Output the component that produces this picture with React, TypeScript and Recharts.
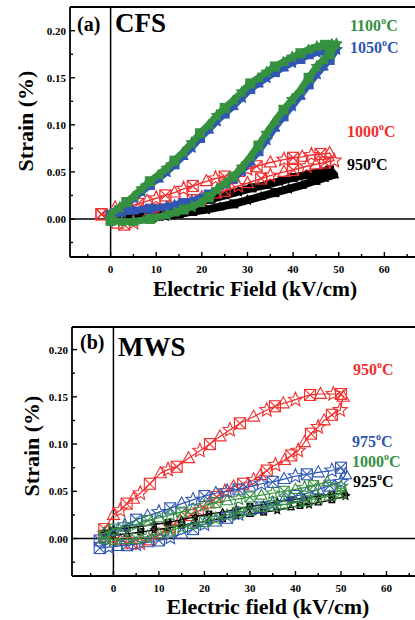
import React from 'react';
import { ScatterChart, Scatter, XAxis, YAxis, ReferenceLine } from 'recharts';

// ---------- Panel (a) CFS ----------
const cfs1100E = [0, 2.5, 5, 8.6, 12.3, 14, 16, 17.8, 19.6, 21.5, 23.3, 25, 26.9, 28.8, 30.6, 32.4, 34.2, 36, 37.9, 39.8, 41.6, 43.4, 45.2, 46.6, 48, 49.5,
  48.5, 47, 45.2, 43.4, 41.6, 39.8, 37.9, 36, 34.2, 32.4, 30.6, 28.8, 26.9, 25, 23.3, 21.5, 19.6, 17.8, 15.9, 14, 12.3, 10.5, 8.6, 6.8, 5, 3.5, 2, 0];
const cfs1100S = [-0.002, -0.003, -0.003, 0.0, 0.004, 0.007, 0.01, 0.013, 0.017, 0.023, 0.031, 0.038, 0.045, 0.055, 0.066, 0.078, 0.091, 0.104, 0.116, 0.127, 0.137, 0.15, 0.162, 0.169, 0.175, 0.186,
  0.186, 0.185, 0.183, 0.18, 0.176, 0.172, 0.167, 0.162, 0.156, 0.15, 0.144, 0.135, 0.126, 0.118, 0.11, 0.1, 0.091, 0.081, 0.071, 0.062, 0.054, 0.047, 0.04, 0.032, 0.024, 0.018, 0.012, 0.005];

const cfs1050E = cfs1100E;
const cfs1050S = [0.004, 0.007, 0.009, 0.011, 0.013, 0.015, 0.017, 0.019, 0.022, 0.026, 0.031, 0.037, 0.043, 0.051, 0.061, 0.072, 0.084, 0.097, 0.109, 0.12, 0.131, 0.143, 0.154, 0.162, 0.169, 0.18,
  0.18, 0.179, 0.177, 0.174, 0.17, 0.166, 0.161, 0.156, 0.15, 0.144, 0.138, 0.129, 0.12, 0.112, 0.104, 0.095, 0.086, 0.076, 0.067, 0.058, 0.05, 0.043, 0.036, 0.029, 0.022, 0.017, 0.011, 0.006];

const cfs1000E = [-2, 0, 1.5, 3, 5, 8, 11, 13, 15, 18, 20, 23, 25, 28, 30, 33, 35, 38, 40, 43, 45, 47, 49,
  48, 46, 44, 42, 40, 38, 35, 32, 30, 28, 25, 23, 21, 18, 16, 14, 12, 10, 8, 6, 3, 1, -2];
const cfs1000S = [0.005, 0.002, -0.005, -0.006, -0.004, 0.003, 0.01, 0.013, 0.015, 0.02, 0.022, 0.027, 0.03, 0.035, 0.038, 0.043, 0.046, 0.05, 0.052, 0.056, 0.058, 0.06, 0.062,
  0.07, 0.069, 0.068, 0.066, 0.065, 0.063, 0.06, 0.056, 0.053, 0.05, 0.045, 0.043, 0.04, 0.035, 0.032, 0.028, 0.025, 0.022, 0.019, 0.016, 0.012, 0.012, 0.005];

const cfs950E = [0, 3, 6, 9, 12, 15, 18, 21, 24, 27, 30, 33, 36, 39, 42, 45, 47, 49,
  48, 46, 43, 40, 37, 34, 31, 28, 25, 22, 19, 16, 13, 10, 7, 4, 1];
const cfs950S = [0.0, -0.001, 0.0, 0.001, 0.003, 0.005, 0.008, 0.01, 0.013, 0.016, 0.02, 0.024, 0.028, 0.032, 0.036, 0.041, 0.044, 0.047,
  0.052, 0.05, 0.047, 0.044, 0.04, 0.036, 0.033, 0.029, 0.025, 0.021, 0.018, 0.014, 0.011, 0.008, 0.005, 0.003, 0.001];

// ---------- Panel (b) MWS ----------
const mws950E = [-2, 0, 1.5, 4, 5.9, 8, 10.3, 12.5, 14.6, 17, 19, 21, 22.7, 24.5, 26.4, 28.5, 30.8, 32.3, 33.7, 35.6, 37.6, 39.1, 40.6, 42, 43.4, 45, 46.3, 48, 49.8, 50.5,
  50, 48.3, 45.5, 43.2, 40, 37.3, 35.5, 33.7, 30.8, 27.8, 25.6, 23.4, 21.2, 19, 16.5, 13.9, 12, 10.3, 8, 5.9, 4.4, 2.9, 1.5, 0, -2];
const mws950S = [0.003, 0.001, -0.002, -0.005, -0.005, -0.002, 0.005, 0.012, 0.019, 0.025, 0.03, 0.037, 0.044, 0.05, 0.055, 0.058, 0.062, 0.067, 0.072, 0.078, 0.083, 0.088, 0.093, 0.102, 0.111, 0.118, 0.125, 0.131, 0.136, 0.15,
  0.153, 0.153, 0.153, 0.152, 0.147, 0.143, 0.14, 0.136, 0.129, 0.122, 0.115, 0.108, 0.1, 0.093, 0.085, 0.076, 0.073, 0.069, 0.058, 0.048, 0.042, 0.037, 0.03, 0.025, 0.01];

const mws975E = [-3, -1, 1, 3, 5, 7.5, 10, 12.5, 15, 17.5, 20, 22.5, 25, 27.5, 30, 32.5, 35, 37.5, 40, 42.5, 45, 47.5, 50, 51,
  50, 48, 45, 42.5, 40, 37.5, 35, 32.5, 30, 27.5, 25, 22.5, 20, 17.5, 15, 12.5, 10, 7.5, 5, 2.5, 0, -3];
const mws975S = [-0.01, -0.009, -0.008, -0.007, -0.006, -0.004, -0.002, 0.001, 0.005, 0.01, 0.015, 0.018, 0.022, 0.026, 0.03, 0.033, 0.037, 0.041, 0.045, 0.048, 0.052, 0.056, 0.06, 0.068,
  0.075, 0.072, 0.07, 0.068, 0.066, 0.063, 0.06, 0.058, 0.055, 0.052, 0.05, 0.048, 0.045, 0.041, 0.037, 0.032, 0.028, 0.024, 0.02, 0.014, 0.008, -0.002];

const mws1000E = [-2, 0, 2.5, 5, 7.5, 10, 12.5, 15, 17.5, 20, 22.5, 25, 27.5, 30, 32.5, 35, 37.5, 40, 42.5, 45, 47.5, 50,
  50, 47, 44, 42, 40, 37.5, 35, 32.5, 30, 27.5, 25, 22.5, 20, 17.5, 15, 12.5, 10, 7.5, 5, 2.5, 0, -2];
const mws1000S = [0.0, -0.002, -0.001, 0.0, 0.002, 0.005, 0.008, 0.012, 0.015, 0.018, 0.021, 0.025, 0.028, 0.03, 0.033, 0.035, 0.036, 0.038, 0.04, 0.043, 0.045, 0.048,
  0.055, 0.06, 0.056, 0.054, 0.052, 0.05, 0.048, 0.046, 0.044, 0.042, 0.04, 0.038, 0.035, 0.031, 0.028, 0.025, 0.022, 0.019, 0.015, 0.012, 0.01, 0.005];

const mws925E = [-2, 0, 3, 6, 9, 12, 15, 18, 21, 24, 27, 30, 33, 36, 39, 41, 43, 45, 48, 51,
  51, 48, 45, 42, 39, 36, 33, 30, 27, 24, 21, 18, 15, 12, 9, 6, 3, 0, -2];
const mws925S = [0.005, 0.004, 0.005, 0.007, 0.009, 0.011, 0.014, 0.016, 0.019, 0.021, 0.024, 0.026, 0.028, 0.03, 0.033, 0.035, 0.036, 0.038, 0.041, 0.045,
  0.048, 0.047, 0.045, 0.043, 0.041, 0.039, 0.036, 0.034, 0.031, 0.028, 0.026, 0.023, 0.02, 0.017, 0.015, 0.013, 0.011, 0.01, 0.008];

// ---------- ticks ----------
const xTicks = [-5, 0, 5, 10, 15, 20, 25, 30, 35, 40, 45, 50, 55, 60, 65];
const yTicks = [-0.025, 0, 0.025, 0.05, 0.075, 0.1, 0.125, 0.15, 0.175, 0.2];

const RED = '#f02f2f';
const GREEN = '#35913f';
const BLUE = '#2f57b3';
const FONT = '"Liberation Serif", "Times New Roman", serif';

const pts = (xs: number[], ys: number[]) => xs.map((x, i) => ({ x, y: ys[i] }));

const starPoints = (cx: number, cy: number, r: number) => {
  const p: string[] = [];
  for (let k = 0; k < 10; k++) {
    const rr = k % 2 === 0 ? r : r * 0.45;
    const a = -Math.PI / 2 + (k * Math.PI) / 5;
    p.push(`${cx + rr * Math.cos(a)},${cy + rr * Math.sin(a)}`);
  }
  return p.join(' ');
};

const makeShape = (color: string, s: number, filled: boolean, sw: number) => (props: any) => {
  const { cx, cy } = props;
  if (cx == null || cy == null) return <g />;
  const idx = typeof props.index === 'number' ? props.index : Math.round(cx * 3 + cy);
  const kind = idx % 3;
  const fill = filled ? color : 'none';
  if (kind === 0) {
    return (
      <g stroke={color} strokeWidth={sw} fill={fill}>
        <rect x={cx - s} y={cy - s} width={2 * s} height={2 * s} />
        <line x1={cx - s} y1={cy - s} x2={cx + s} y2={cy + s} />
        <line x1={cx - s} y1={cy + s} x2={cx + s} y2={cy - s} />
      </g>
    );
  }
  if (kind === 1) {
    return <polygon points={starPoints(cx, cy, s * 1.35)} stroke={color} strokeWidth={sw} fill={fill} />;
  }
  return (
    <polygon
      points={`${cx},${cy - s * 1.2} ${cx + s * 1.1},${cy + s * 0.8} ${cx - s * 1.1},${cy + s * 0.8}`}
      stroke={color}
      strokeWidth={sw}
      fill={fill}
    />
  );
};

const XTick = (dy: number) => (props: any) => {
  const { x, y, payload } = props;
  const v = payload.value;
  const major = v % 10 === 0;
  return (
    <g>
      <line x1={x} y1={y} x2={x} y2={y - (major ? 5 : 3)} stroke="#000" strokeWidth={1.4} />
      {major && v >= 0 ? (
        <text x={x} y={y + dy} textAnchor="middle" dominantBaseline="central" fontFamily={FONT} fontWeight="bold" fontSize={11} fill="#000">
          {v}
        </text>
      ) : null}
    </g>
  );
};

const YTick = (props: any) => {
  const { x, y, payload } = props;
  const v = payload.value;
  const major = Math.abs(v / 0.05 - Math.round(v / 0.05)) < 1e-6;
  return (
    <g>
      <line x1={x} y1={y} x2={x + (major ? 5 : 3)} y2={y} stroke="#000" strokeWidth={1.4} />
      {major ? (
        <text x={x - 4} y={y} textAnchor="end" dominantBaseline="central" fontFamily={FONT} fontWeight="bold" fontSize={11} fill="#000">
          {v.toFixed(2)}
        </text>
      ) : null}
    </g>
  );
};

type SeriesDef = { data: { x: number; y: number }[]; color: string; lw: number; ms: number; filled: boolean; msw: number };

const Panel = ({
  series, xDomain, yDomain, width, height, margin, yWidth, xHeight, tickDy,
}: {
  series: SeriesDef[]; xDomain: [number, number]; yDomain: [number, number]; width: number; height: number;
  margin: any; yWidth: number; xHeight: number; tickDy: number;
}) => (
  <ScatterChart width={width} height={height} margin={margin}>
    <XAxis
      type="number" dataKey="x" domain={xDomain} ticks={xTicks} interval={0} allowDataOverflow
      height={xHeight} tickSize={0} tickMargin={0} tickLine={false}
      axisLine={{ stroke: '#000', strokeWidth: 1.8 }} tick={XTick(tickDy)}
    />
    <YAxis
      type="number" dataKey="y" domain={yDomain} ticks={yTicks} interval={0} allowDataOverflow
      width={yWidth} tickSize={0} tickMargin={0} tickLine={false}
      axisLine={{ stroke: '#000', strokeWidth: 1.8 }} tick={YTick}
    />
    <ReferenceLine y={yDomain[1]} stroke="#000" strokeWidth={1.8} />
    <ReferenceLine x={0} stroke="#000" strokeWidth={1.5} />
    <ReferenceLine y={0} stroke="#000" strokeWidth={1.5} />
    {series.map((s, i) => (
      <Scatter
        key={i}
        data={s.data}
        fill={s.color}
        line={{ stroke: s.color, strokeWidth: s.lw, strokeLinejoin: 'round' }}
        lineJointType="linear"
        shape={makeShape(s.color, s.ms, s.filled, s.msw)}
        isAnimationActive={false}
      />
    ))}
  </ScatterChart>
);

const Temp = ({ x, y, color, t }: { x: number; y: number; color: string; t: string }) => (
  <text x={x} y={y} fontFamily={FONT} fontWeight="bold" fontSize={16} fill={color}>
    {t}
    <tspan dy={-7} fontSize={10}>o</tspan>
    <tspan dy={7}>C</tspan>
  </text>
);

export default function App() {
  const seriesA: SeriesDef[] = [
    { data: pts(cfs950E, cfs950S), color: '#000', lw: 8, ms: 4, filled: true, msw: 1 },
    { data: pts(cfs1000E, cfs1000S), color: RED, lw: 1.4, ms: 5.5, filled: false, msw: 1.2 },
    { data: pts(cfs1050E, cfs1050S), color: BLUE, lw: 7, ms: 4.5, filled: true, msw: 1 },
    { data: pts(cfs1100E, cfs1100S), color: GREEN, lw: 7, ms: 4.5, filled: true, msw: 1 },
  ];
  const seriesB: SeriesDef[] = [
    { data: pts(mws950E, mws950S), color: RED, lw: 1.2, ms: 5.5, filled: false, msw: 1.1 },
    { data: pts(mws925E, mws925S), color: '#000', lw: 1.4, ms: 2.8, filled: false, msw: 1.3 },
    { data: pts(mws975E, mws975S), color: BLUE, lw: 1.2, ms: 5.5, filled: false, msw: 1.1 },
    { data: pts(mws1000E, mws1000S), color: GREEN, lw: 1.2, ms: 5, filled: false, msw: 1.1 },
  ];
  return (
    <div style={{ position: 'absolute', left: 0, top: 0, width: 415, height: 620, overflow: 'hidden', background: '#fff' }}>
      <div style={{ position: 'absolute', left: 0, top: 0 }}>
        <Panel
          series={seriesA} xDomain={[-8.9, 70]} yDomain={[-0.0404, 0.2252]}
          width={440} height={300} margin={{ top: 7, right: 10, left: 0, bottom: 0 }}
          yWidth={70} xHeight={43} tickDy={12.3}
        />
      </div>
      <div style={{ position: 'absolute', left: 0, top: 310 }}>
        <Panel
          series={seriesB} xDomain={[-9.1, 70]} yDomain={[-0.0396, 0.2239]}
          width={442} height={310} margin={{ top: 17, right: 10, left: 0, bottom: 0 }}
          yWidth={72} xHeight={44} tickDy={11.5}
        />
      </div>
      <svg width={415} height={620} style={{ position: 'absolute', left: 0, top: 0, pointerEvents: 'none' }}>
        {/* panel a */}
        <text x={77} y={30.5} fontFamily={FONT} fontWeight="bold" fontSize={20} fill="#000">(a)</text>
        <text x={115} y={31.5} fontFamily={FONT} fontWeight="bold" fontSize={27} fill="#000">CFS</text>
        <Temp x={350} y={30.5} color={GREEN} t="1100" />
        <Temp x={350} y={53.3} color={BLUE} t="1050" />
        <Temp x={347} y={136.7} color={RED} t="1000" />
        <Temp x={347} y={170} color="#000" t="950" />
        <text x={255} y={295.5} textAnchor="middle" fontFamily={FONT} fontWeight="bold" fontSize={21.5} fill="#000">Electric Field (kV/cm)</text>
        <text x={0} y={0} transform="translate(25,121) rotate(-90)" textAnchor="middle" dominantBaseline="central" fontFamily={FONT} fontWeight="bold" fontSize={22} fill="#000">Strain (%)</text>
        {/* panel b */}
        <text x={80} y={349} fontFamily={FONT} fontWeight="bold" fontSize={20} fill="#000">(b)</text>
        <text x={118} y={355.5} fontFamily={FONT} fontWeight="bold" fontSize={27} fill="#000">MWS</text>
        <Temp x={353} y={375} color={RED} t="950" />
        <Temp x={352} y={446.7} color={BLUE} t="975" />
        <Temp x={352} y={467.3} color={GREEN} t="1000" />
        <Temp x={353} y={486.7} color="#000" t="925" />
        <text x={268} y={614} textAnchor="middle" fontFamily={FONT} fontWeight="bold" fontSize={22} fill="#000">Electric field (kV/cm)</text>
        <text x={0} y={0} transform="translate(31,446) rotate(-90)" textAnchor="middle" dominantBaseline="central" fontFamily={FONT} fontWeight="bold" fontSize={22} fill="#000">Strain (%)</text>
      </svg>
    </div>
  );
}
